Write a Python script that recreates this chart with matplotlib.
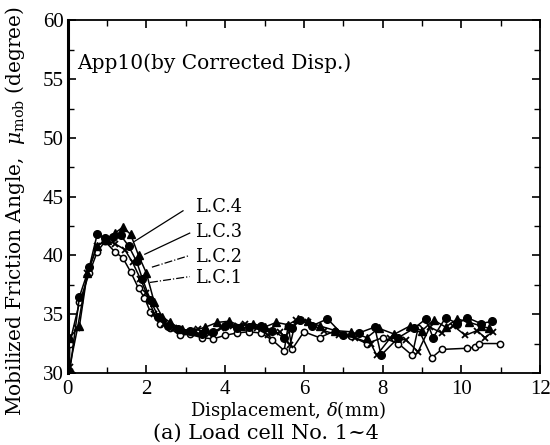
import matplotlib
matplotlib.use('Agg')
import matplotlib.pyplot as plt
from matplotlib.ticker import MultipleLocator

plt.rcParams['font.family'] = ['DejaVu Serif']
plt.rcParams['mathtext.fontset'] = 'dejavuserif'

# Load cell 1 (open circles)
x1 = [0.05, 0.05, 0.3, 0.55, 0.75, 0.95, 1.2, 1.4, 1.6, 1.8, 1.95, 2.1, 2.35, 2.6, 2.85, 3.1, 3.4, 3.7, 4.0, 4.3,
      4.6, 4.9, 5.2, 5.5, 5.6, 5.7, 6.0, 6.4, 6.8, 7.2, 7.6, 8.0, 8.4, 8.75, 8.9, 9.25, 9.5, 10.15, 10.35, 10.45, 10.97]
y1 = [30.0, 32.5, 36.0, 38.5, 40.3, 41.2, 40.3, 39.8, 38.6, 37.2, 36.4, 35.2, 34.2, 33.8, 33.2, 33.3, 33.0, 32.9, 33.2, 33.4,
      33.5, 33.4, 32.8, 31.9, 34.0, 32.0, 33.5, 33.0, 33.6, 33.1, 32.5, 33.0, 32.5, 31.5, 33.8, 31.3, 32.0, 32.1, 32.2, 32.5, 32.5]

# Load cell 2 (crosses)
x2 = [0.05, 0.25, 0.5, 0.75, 0.95, 1.2, 1.45, 1.65, 1.85, 2.0, 2.2, 2.45, 2.7, 3.0, 3.3, 3.6, 3.9, 4.2, 4.5, 4.8,
      5.1, 5.4, 5.65, 5.8, 6.1, 6.5, 6.9, 7.3, 7.7, 7.85, 8.2, 8.6, 8.9, 9.2, 9.5, 9.8, 10.1, 10.4, 10.6, 10.8]
y2 = [30.5, 33.8, 38.5, 40.8, 41.3, 41.0, 40.5, 39.4, 38.0, 36.8, 35.0, 34.2, 33.8, 33.5, 33.7, 33.3, 33.8, 34.0, 34.2, 33.8,
      33.2, 33.5, 32.4, 34.5, 34.3, 33.6, 33.2, 33.0, 32.5, 31.5, 33.0, 32.8, 31.8, 33.9, 33.4, 34.0, 33.2, 33.6, 33.0, 33.5]

# Load cell 3 (filled circles)
x3 = [0.05, 0.3, 0.55, 0.75, 0.95, 1.15, 1.35, 1.55, 1.75, 1.9, 2.1, 2.3, 2.55, 2.8, 3.1, 3.4, 3.7, 4.0, 4.3, 4.6,
      4.9, 5.2, 5.5, 5.7, 5.9, 6.2, 6.6, 7.0, 7.4, 7.8, 7.96, 8.4, 8.8, 9.1, 9.28, 9.6, 9.9, 10.15, 10.5, 10.79]
y3 = [30.0, 36.5, 39.0, 41.8, 41.5, 41.6, 41.7, 40.8, 39.5, 38.0, 36.2, 34.8, 34.0, 33.7, 33.6, 33.3, 33.5, 34.0, 33.8, 33.9,
      34.0, 33.6, 33.0, 33.8, 34.5, 34.0, 34.6, 33.2, 33.4, 33.9, 31.5, 33.0, 33.8, 34.6, 33.0, 34.7, 34.2, 34.7, 34.2, 34.4]

# Load cell 4 (triangles)
x4 = [0.05, 0.3, 0.5, 0.75, 1.0, 1.2, 1.4, 1.6, 1.8, 2.0, 2.2, 2.4, 2.6, 2.9, 3.2, 3.5, 3.8, 4.1, 4.4, 4.7,
      5.0, 5.3, 5.6, 5.85, 6.1, 6.4, 6.8, 7.2, 7.6, 7.9, 8.3, 8.7, 9.0, 9.3, 9.6, 9.9, 10.2, 10.5, 10.7]
y4 = [33.0, 34.0, 38.5, 40.8, 41.3, 41.9, 42.4, 41.8, 40.0, 38.5, 36.0, 34.8, 34.3, 33.7, 33.6, 33.9, 34.3, 34.4, 34.0, 34.2,
      33.9, 34.3, 34.1, 34.6, 34.4, 34.0, 33.6, 33.5, 33.0, 33.8, 33.3, 34.0, 33.6, 34.5, 33.9, 34.6, 34.3, 34.0, 33.8]

labels = ['L.C.1', 'L.C.2', 'L.C.3', 'L.C.4']
# leader lines: (data point, label anchor, style)
leaders = [((2.09, 37.7), (3.10, 38.2), '-.'),
           ((2.14, 39.0), (3.10, 40.0), '-.'),
           ((1.96, 40.1), (3.10, 41.9), '-'),
           ((1.70, 41.2), (2.93, 43.8), '-')]
label_pos = [(3.23, 38.1), (3.23, 39.9), (3.23, 42.0), (3.23, 44.15)]

fig = plt.figure(figsize=(5.5, 4.45), dpi=100)
ax = fig.add_axes([0.123, 0.162, 0.859, 0.792])

ax.plot(x1, y1, '-o', color='k', mfc='white', mec='k', ms=4.5, mew=1.1, lw=1.1)
ax.plot(x2, y2, '-x', color='k', ms=5, mew=1.3, lw=1.1)
ax.plot(x3, y3, '-o', color='k', ms=5.5, lw=1.1)
ax.plot(x4, y4, '-^', color='k', ms=5.5, lw=1.1)

for (p, q, ls), lab, (tx, ty) in zip(leaders, labels, label_pos):
    ax.plot([p[0], q[0]], [p[1], q[1]], ls, color='k', lw=0.9)
    ax.text(tx, ty, lab, fontsize=12.8, va='center', ha='left')

ax.text(0.25, 56.4, 'App10(by Corrected Disp.)', fontsize=14.5, va='center', ha='left')

ax.set_xlim(0, 12)
ax.set_ylim(30, 60)
ax.xaxis.set_major_locator(MultipleLocator(2))
ax.xaxis.set_minor_locator(MultipleLocator(1))
ax.yaxis.set_major_locator(MultipleLocator(5))
ax.yaxis.set_minor_locator(MultipleLocator(2.5))
ax.tick_params(which='both', direction='in', top=True, right=True, pad=3)
ax.tick_params(axis='x', pad=5)
ax.tick_params(which='major', length=6, width=1.2)
ax.tick_params(which='minor', length=4, width=1.0)
for lab in ax.get_xticklabels() + ax.get_yticklabels():
    lab.set_fontfamily('Liberation Serif')
    lab.set_fontsize(15)
for s in ax.spines.values():
    s.set_linewidth(1.3)
ax.spines['left'].set_linewidth(2.2)

fig.text(288 / 550, 1 - 411 / 445, r'Displacement, $\delta$(mm)', fontsize=13, ha='center', va='center')
fig.text(266 / 550, 1 - 433 / 445, '(a) Load cell No. 1~4', fontsize=15, ha='center', va='center')
fig.text(15 / 550, 1 - 211 / 445, r'Mobilized Friction Angle,  $\mu_{\rm mob}$ (degree)', fontsize=14.5,
         rotation=90, ha='center', va='center')

fig.savefig('out.png', dpi=100)
